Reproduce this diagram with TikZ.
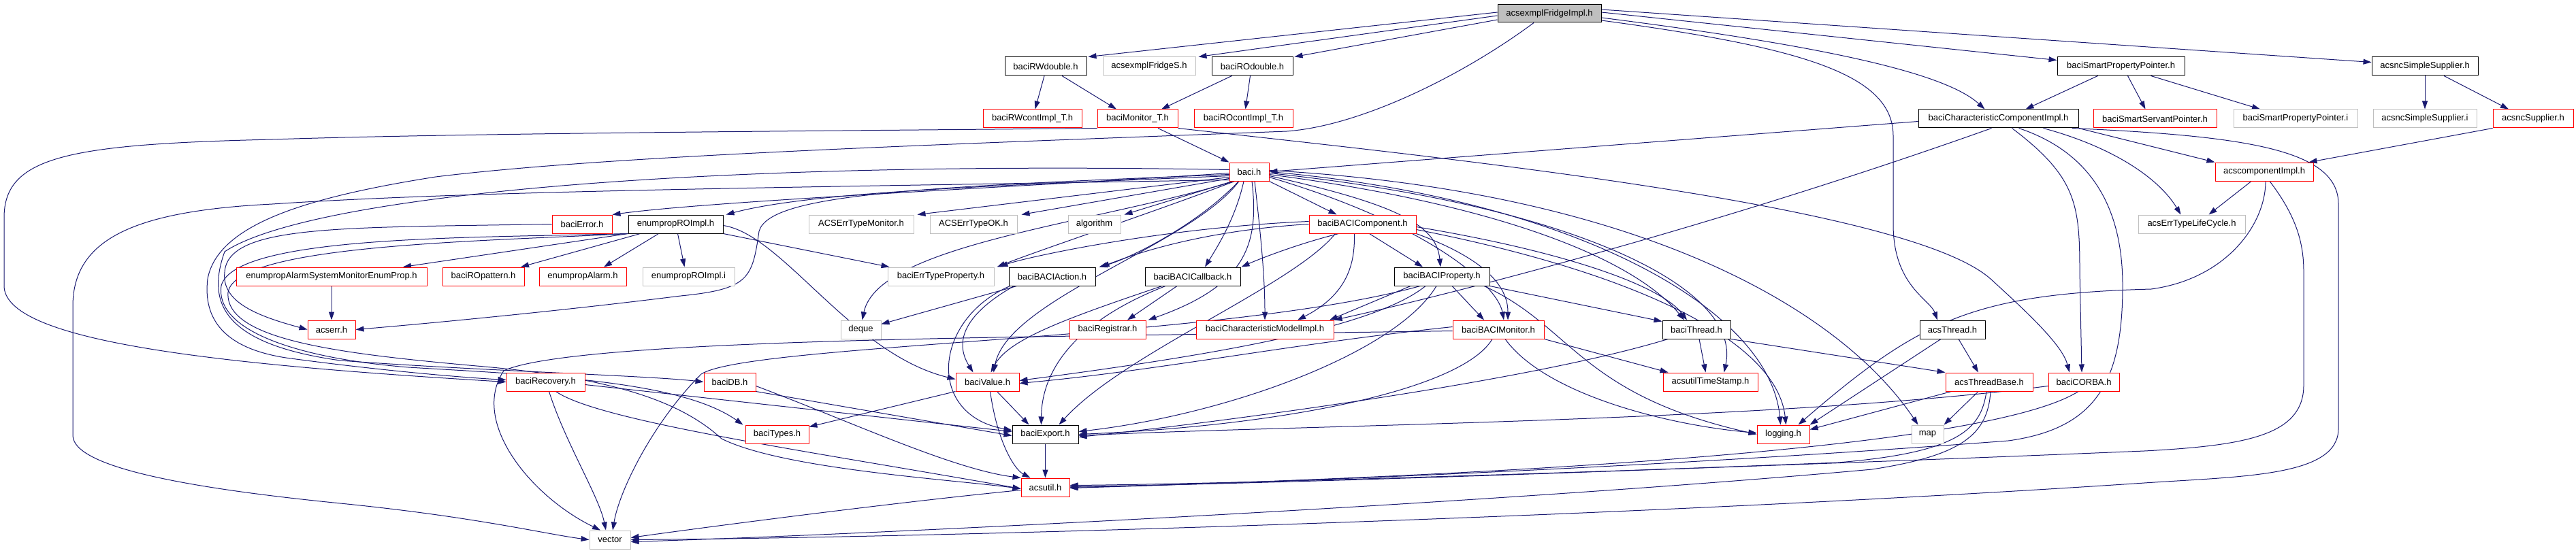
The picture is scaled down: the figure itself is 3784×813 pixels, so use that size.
\documentclass[tikz,border=0pt]{standalone}
\usepackage{fontspec}
\setmainfont{Liberation Sans}
\usetikzlibrary{arrows.meta}
\definecolor{edgec}{RGB}{25,25,112}
\definecolor{gline}{RGB}{191,191,191}
\definecolor{gfill}{RGB}{191,191,191}
\newcommand{\fsz}{\fontsize{13pt}{15pt}\selectfont}
\pgfdeclarelayer{bg}
\pgfsetlayers{bg,main}
\tikzset{
  nb/.style={draw=black, fill=white, line width=1pt, rectangle, inner sep=0pt, minimum height=27pt, font=\fsz},
  nr/.style={nb, draw=red},
  ng/.style={nb, draw=gline},
  e/.style={draw=edgec, line width=1pt, -{Triangle[length=12pt,width=8pt]}},
}
\begin{document}
\begin{tikzpicture}[x=1pt,y=-1pt]
\useasboundingbox (0,0) rectangle (3784,813);
% nodes
\node[nb,fill=gfill,minimum width=152pt,minimum height=26pt] (F) at (2276,20) {acsexmplFridgeImpl.h};
\node[nb,minimum width=120pt] (RWd) at (1536,97.5) {baciRWdouble.h};
\node[ng,minimum width=136pt] (FS) at (1688,97.5) {acsexmplFridgeS.h};
\node[nb,minimum width=119pt] (ROd) at (1839.5,97.5) {baciROdouble.h};
\node[nb,minimum width=187pt] (SPPh) at (3115.5,97.5) {baciSmartPropertyPointer.h};
\node[nb,minimum width=156pt] (SSh) at (3562,97.5) {acsncSimpleSupplier.h};
\node[nr,minimum width=145pt] (RWc) at (1516.5,174.5) {baciRWcontImpl\_T.h};
\node[nr,minimum width=118pt] (MonT) at (1671,174.5) {baciMonitor\_T.h};
\node[nr,minimum width=145pt] (ROc) at (1826.5,174.5) {baciROcontImpl\_T.h};
\node[nb,minimum width=235pt] (CCI) at (2935.5,174.5) {baciCharacteristicComponentImpl.h};
\node[nr,minimum width=181pt] (SSP) at (3165.5,174.5) {baciSmartServantPointer.h};
\node[ng,minimum width=182pt] (SPPi) at (3372,174.5) {baciSmartPropertyPointer.i};
\node[ng,minimum width=152pt] (SSi) at (3562,174.5) {acsncSimpleSupplier.i};
\node[nr,minimum width=118pt] (Sup) at (3721,174.5) {acsncSupplier.h};
\node[nr,minimum width=58pt] (baci) at (1835,252.5) {baci.h};
\node[nr,minimum width=144pt] (aci) at (3326,252.5) {acscomponentImpl.h};
\node[nr,minimum width=88pt] (bErr) at (855,329.5) {baciError.h};
\node[nb,minimum width=139pt] (epRO) at (992.5,329.5) {enumpropROImpl.h};
\node[ng,minimum width=154pt] (ETM) at (1265,329.5) {ACSErrTypeMonitor.h};
\node[ng,minimum width=128pt] (ETOK) at (1430,329.5) {ACSErrTypeOK.h};
\node[ng,minimum width=77pt] (alg) at (1607.5,329.5) {algorithm};
\node[nr,minimum width=157pt] (BComp) at (2001.5,329.5) {baciBACIComponent.h};
\node[ng,minimum width=157pt] (LC) at (3219.5,329.5) {acsErrTypeLifeCycle.h};
\node[nr,minimum width=280pt] (epASM) at (487,406.5) {enumpropAlarmSystemMonitorEnumProp.h};
\node[nr,minimum width=120pt] (ROpat) at (710,406.5) {baciROpattern.h};
\node[nr,minimum width=128pt] (epAl) at (856,406.5) {enumpropAlarm.h};
\node[ng,minimum width=135pt] (epROi) at (1011.5,406.5) {enumpropROImpl.i};
\node[ng,minimum width=156pt] (ETP) at (1382,406.5) {baciErrTypeProperty.h};
\node[nb,minimum width=127pt] (BAct) at (1545.5,406.5) {baciBACIAction.h};
\node[nb,minimum width=140pt] (BCb) at (1752,406.5) {baciBACICallback.h};
\node[nb,minimum width=140pt] (BProp) at (2118,406.5) {baciBACIProperty.h};
\node[nr,minimum width=70pt] (acserr) at (487,484.5) {acserr.h};
\node[ng,minimum width=59pt] (deque) at (1264.5,484.5) {deque};
\node[nr,minimum width=112pt] (Reg) at (1627,484.5) {baciRegistrar.h};
\node[nr,minimum width=202pt] (CMI) at (1858,484.5) {baciCharacteristicModelImpl.h};
\node[nr,minimum width=134pt] (BMon) at (2201,484.5) {baciBACIMonitor.h};
\node[nb,minimum width=100pt] (bThr) at (2492,484.5) {baciThread.h};
\node[nb,minimum width=96pt] (aThr) at (2868,484.5) {acsThread.h};
\node[nr,minimum width=115pt] (Rec) at (801.5,561.5) {baciRecovery.h};
\node[nr,minimum width=76pt] (DB) at (1072,561.5) {baciDB.h};
\node[nr,minimum width=93pt] (Val) at (1450.5,561.5) {baciValue.h};
\node[nr,minimum width=139pt] (TS) at (2512.5,561.5) {acsutilTimeStamp.h};
\node[nr,minimum width=128pt] (TB) at (2922,561.5) {acsThreadBase.h};
\node[nr,minimum width=104pt] (CORBA) at (3061,561.5) {baciCORBA.h};
\node[nr,minimum width=93pt] (Types) at (1141.5,638.5) {baciTypes.h};
\node[nb,minimum width=97pt] (Exp) at (1535.5,638.5) {baciExport.h};
\node[nr,minimum width=77pt] (log) at (2619.5,638.5) {logging.h};
\node[ng,minimum width=47pt] (map) at (2831.5,638.5) {map};
\node[nr,minimum width=71pt] (acsutil) at (1535.5,716.5) {acsutil.h};
\node[ng,minimum width=60pt] (vector) at (896,793.5) {vector};
\begin{pgfonlayer}{bg}
% top level
\draw[e] ([yshift=2pt]F.west) -- ([xshift=2pt]RWd.north east);
\draw[e] ([yshift=-3pt]F.west) -- ([xshift=4pt]FS.north east);
\draw[e] ([yshift=-9pt]F.west) -- ([xshift=2pt]ROd.north east);
\draw[e] ([yshift=2pt]F.east) -- ([yshift=-5pt]SPPh.north west);
\draw[e] ([yshift=6pt]F.east) -- ([yshift=-8pt]SSh.north west);
\draw[e] ([yshift=-6pt]F.east) .. controls (2700,70) and (2860,110) .. ([xshift=-20pt]CCI.north);
\draw[e] ([yshift=-10pt]F.east) .. controls (2650,70) and (2781,110) .. (2781,200) -- (2781,330) .. controls (2781,420) and (2835,440) .. ([xshift=-22pt]aThr.north);
\draw[e] ([xshift=-23pt]F.south) .. controls (2150,110) and (2000,185) .. (1890,193) .. controls (1400,212) and (900,228) .. (640,260) .. controls (450,290) and (320,330) .. (305,410) .. controls (298,470) and (330,512) .. (420,526) .. controls (560,545) and (680,555) .. ([yshift=3pt]Rec.west);
% row 2
\draw[e] ([xshift=-2pt]RWd.south) -- ([xshift=4pt]RWc.north);
\draw[e] ([xshift=24pt]RWd.south) -- ([xshift=-31pt]MonT.north);
\draw[e] ([xshift=-30pt]ROd.south) -- ([xshift=35pt]MonT.north);
\draw[e] ([xshift=-3pt]ROd.south) -- ([xshift=3pt]ROc.north);
\draw[e] ([xshift=-34pt]SPPh.south) -- ([xshift=40pt]CCI.north);
\draw[e] ([xshift=10pt]SPPh.south) -- ([xshift=-14pt]SSP.north);
\draw[e] ([xshift=44pt]SPPh.south) -- ([xshift=-52pt]SPPi.north);
\draw[e] (SSh.south) -- (SSi.north);
\draw[e] ([xshift=28pt]SSh.south) -- ([xshift=-36pt]Sup.north);
\draw[e] (Sup.south west) -- ([xshift=-7pt]aci.north east);
% baciMonitor_T
\draw[e] ([xshift=30pt]MonT.south) -- (baci.north west);
\draw[e] (MonT.south west) .. controls (1300,192) and (700,195) .. (400,205) .. controls (100,212) and (6,230) .. (6,320) -- (6,420) .. controls (6,500) and (300,535) .. (Rec.west);
\draw[e] (MonT.south east) .. controls (2100,230) and (2800,300) .. (2924,410) .. controls (2990,470) and (3030,510) .. ([xshift=-21pt]CORBA.north);
% CCI
\draw[e] ([yshift=-4pt]CCI.west) -- (baci.east);
\draw[e] ([xshift=-10pt]CCI.south) .. controls (2500,340) and (2100,440) .. (CMI.north east);
\draw[e] (CCI.south east) -- (aci.north west);
\draw[e] ([xshift=66pt]CCI.south) .. controls (3100,215) and (3170,260) .. ([xshift=-16pt]LC.north);
\draw[e] ([xshift=20pt]CCI.south) .. controls (3050,260) and (3055,300) .. (3055,400) -- ([xshift=-3pt]CORBA.north);
\draw[e] ([xshift=30pt]CCI.south) .. controls (3090,230) and (3118,330) .. (3118,420) .. controls (3118,560) and (3080,630) .. (2950,648) .. controls (2400,690) and (1800,712) .. (acsutil.east);
\draw[e] ([xshift=-10pt]CCI.south east) .. controls (3300,200) and (3435,220) .. (3435,300) -- (3435,630) .. controls (3435,700) and (3300,700) .. (3150,710) .. controls (2400,760) and (1400,790) .. (vector.east);
% acscomponentImpl
\draw[e] ([xshift=-19pt]aci.south) -- ([xshift=25pt]LC.north);
\draw[e] ([xshift=2pt]aci.south) .. controls (3328,330) and (3270,410) .. (3160,425) .. controls (2900,432) and (2820,470) .. ([xshift=22pt]log.north);
\draw[e] ([xshift=8pt]aci.south) .. controls (3375,320) and (3384,360) .. (3384,400) -- (3384,566) .. controls (3384,640) and (3300,655) .. (3150,663) .. controls (2500,690) and (1800,712) .. ([yshift=3pt]acsutil.east);
% baci.h
\draw[e] ([yshift=-8pt]baci.west) -- ([xshift=5pt]ETM.north east);
\draw[e] ([yshift=-10pt]baci.west) -- ([xshift=6pt]ETOK.north east);
\draw[e] ([xshift=5pt]baci.south west) -- ([xshift=5pt]alg.north east);
\draw[e] ([yshift=-2pt]baci.west) .. controls (1500,275) and (1050,295) .. (bErr.north east);
\draw[e] ([yshift=-6pt]baci.west) .. controls (1500,272) and (1200,280) .. ([xshift=4pt]epRO.north east);
\draw[e] ([yshift=-4pt]baci.west) .. controls (1350,275) and (1130,285) .. (1115,340) .. controls (1105,410) and (1100,425) .. (1000,435) .. controls (800,460) and (600,478) .. (acserr.east);
\draw[e] ([xshift=8pt]baci.south west) .. controls (1700,310) and (1520,370) .. ([xshift=4pt]ETP.north east);
\draw[e] ([xshift=14pt]baci.south west) .. controls (1760,330) and (1660,380) .. ([xshift=5pt]BAct.north east);
\draw[e] ([xshift=-8pt]baci.south) .. controls (1815,320) and (1790,360) .. ([xshift=18pt]BCb.north);
\draw[e] (baci.south east) -- ([xshift=-38pt]BComp.north);
\draw[e] ([yshift=-6pt]baci.east) .. controls (2050,300) and (2110,330) .. ([xshift=-2pt]BProp.north);
\draw[e] ([xshift=8pt]baci.south) .. controls (1850,330) and (1858,400) .. (CMI.north);
\draw[e] ([xshift=4pt]baci.south) .. controls (1850,360) and (1830,420) .. ([xshift=3pt]Reg.north east);
\draw[e] ([xshift=-22pt]baci.south) .. controls (1600,330) and (1290,360) .. ([xshift=2pt]deque.north);
\draw[e] ([xshift=-15pt]baci.south) .. controls (1750,360) and (1480,440) .. ([xshift=9pt]Val.north);
\draw[e] ([yshift=-8pt]baci.east) .. controls (2100,330) and (2200,420) .. ([xshift=8pt]BMon.north);
\draw[e] ([yshift=-4pt]baci.east) .. controls (2200,300) and (2400,380) .. ([xshift=-18pt]bThr.north);
\draw[e] ([yshift=-2pt]baci.east) .. controls (2300,300) and (2560,420) .. ([xshift=20pt]TS.north);
\draw[e] (baci.east) .. controls (2300,290) and (2600,450) .. ([xshift=-4pt]log.north);
\draw[e] ([yshift=2pt]baci.east) .. controls (2400,280) and (2700,450) .. ([xshift=-14pt]map.north);
\draw[e] ([yshift=3pt]baci.west) .. controls (1000,235) and (450,290) .. (330,370) .. controls (305,440) and (320,505) .. (500,530) .. controls (700,545) and (950,552) .. (DB.west);
\draw[e] ([yshift=-12pt]baci.west) .. controls (1200,275) and (700,280) .. (400,300) .. controls (200,310) and (107,350) .. (107,450) -- (107,640) .. controls (107,690) and (300,720) .. (500,740) .. controls (700,760) and (800,785) .. (vector.west);
% enumpropROImpl
\draw[e] (epRO.south west) -- ([xshift=105pt]epASM.north);
\draw[e] ([xshift=-52pt]epRO.south) -- ([xshift=55pt]ROpat.north);
\draw[e] ([xshift=-25pt]epRO.south) -- ([xshift=31pt]epAl.north);
\draw[e] ([xshift=3pt]epRO.south) -- ([xshift=-6pt]epROi.north);
\draw[e] (epRO.south east) -- ([xshift=3pt]ETP.north west);
\draw[e] ([yshift=-2pt]epRO.east) .. controls (1150,345) and (1250,520) .. ([yshift=4pt]Val.west);
\draw[e] ([xshift=-3pt]epRO.south west) .. controls (700,350) and (345,345) .. (325,420) .. controls (315,490) and (450,528) .. (600,540) .. controls (800,552) and (1000,560) .. ([xshift=-3pt]Types.north west);
\draw[e] ([xshift=2pt]epRO.south west) .. controls (700,355) and (345,360) .. (335,430) .. controls (330,500) and (500,520) .. (700,538) .. controls (900,555) and (1000,590) .. (1060,645) .. controls (1150,690) and (1400,705) .. ([yshift=-2pt]acsutil.west);
\draw[e] (epASM.south) -- (acserr.north);
\draw[e] (bErr.west) .. controls (500,335) and (335,330) .. (330,400) .. controls (325,445) and (380,465) .. (acserr.west);
% BACIComponent
\draw[e] ([yshift=4pt]BComp.west) .. controls (1700,335) and (1500,380) .. ([xshift=8pt]ETP.north east);
\draw[e] (BComp.west) .. controls (1750,340) and (1650,380) .. ([xshift=8pt]BAct.north east);
\draw[e] ([xshift=-35pt]BComp.south) .. controls (1900,360) and (1840,385) .. ([xshift=1pt]BCb.north east);
\draw[e] ([xshift=-40pt]BComp.south) .. controls (1900,420) and (1650,520) .. ([xshift=20pt]Exp.north);
\draw[e] ([xshift=-12pt]BComp.south) .. controls (1990,380) and (1985,430) .. ([xshift=48pt]CMI.north);
\draw[e] ([xshift=10pt]BComp.south) -- ([xshift=-28pt]BProp.north);
\draw[e] (BComp.south east) .. controls (2180,380) and (2215,420) .. ([xshift=14pt]BMon.north);
\draw[e] ([yshift=-4pt]BComp.east) .. controls (2300,370) and (2440,420) .. ([xshift=-14pt]bThr.north);
\draw[e] ([yshift=-8pt]BComp.east) .. controls (2400,400) and (2610,500) .. ([xshift=4pt]log.north);
% BACIProperty
\draw[e] ([xshift=15pt]BProp.south) -- ([xshift=-21pt]BMon.north);
\draw[e] ([xshift=-46pt]BProp.south) -- ([xshift=95pt]CMI.north);
\draw[e] ([xshift=-24pt]BProp.south) .. controls (2020,480) and (1800,520) .. ([yshift=2pt]Val.east);
\draw[e] ([xshift=-8pt]BProp.south) .. controls (2050,520) and (1800,610) .. ([yshift=4pt]Exp.east);
\draw[e] (BProp.south east) -- ([yshift=-2pt]bThr.north west);
\draw[e] ([xshift=62pt]BProp.south) .. controls (2310,480) and (2320,580) .. (log.west);
\draw[e] ([xshift=-32pt]BProp.south) .. controls (1800,500) and (1100,505) .. (1030,550) .. controls (960,620) and (910,720) .. ([xshift=4pt]vector.north);
% BACIMonitor
\draw[e] ([yshift=4pt]BMon.west) .. controls (1900,505) and (1700,545) .. ([yshift=-2pt]Val.east);
\draw[e] ([yshift=-2pt]BMon.west) .. controls (1600,495) and (850,495) .. (740,545) .. controls (690,620) and (780,730) .. ([xshift=-14pt]vector.north);
\draw[e] ([xshift=-9pt]BMon.south) .. controls (2150,570) and (1900,625) .. (Exp.east);
\draw[e] (BMon.south east) -- ([xshift=8pt]TS.north west);
\draw[e] ([xshift=10pt]BMon.south) .. controls (2270,580) and (2450,625) .. ([yshift=2pt]log.west);
% threads
\draw[e] ([xshift=4pt]bThr.south) -- ([xshift=-7pt]TS.north);
\draw[e] (bThr.south east) -- (TB.north west);
\draw[e] ([xshift=-42pt]bThr.south) .. controls (2250,560) and (1800,620) .. ([yshift=-4pt]Exp.east);
\draw[e] ([xshift=9pt]aThr.south) -- ([xshift=-16pt]TB.north);
\draw[e] ([xshift=-17pt]aThr.south) -- (log.north east);
\draw[e] ([xshift=9pt]TB.south west) -- ([yshift=7pt]log.east);
\draw[e] ([xshift=-16pt]TB.south) -- (map.north east);
\draw[e] ([xshift=-4pt]TB.south) .. controls (2910,630) and (2880,665) .. (2700,680) .. controls (2200,700) and (1800,712) .. ([yshift=1pt]acsutil.east);
\draw[e] ([xshift=2pt]TB.south) .. controls (2920,640) and (2880,670) .. (2750,690) .. controls (2200,740) and (1300,785) .. ([yshift=-3pt]vector.east);
\draw[e] ([yshift=-6pt]CORBA.west) .. controls (2600,620) and (1900,625) .. ([yshift=-2pt]Exp.east);
\draw[e] ([xshift=-8pt]CORBA.south) .. controls (2950,640) and (2500,690) .. ([yshift=-1pt]acsutil.east);
% action / callback
\draw[e] ([xshift=-52pt]BAct.south) -- ([yshift=8pt]deque.east);
\draw[e] ([xshift=-56pt]BAct.south) .. controls (1420,460) and (1400,500) .. ([xshift=-21pt]Val.north);
\draw[e] ([xshift=-62pt]BAct.south) .. controls (1370,470) and (1360,610) .. ([yshift=6pt]Exp.west);
\draw[e] ([xshift=-45pt]BCb.south) .. controls (1560,470) and (1480,500) .. ([xshift=5pt]Val.north);
\draw[e] ([xshift=-23pt]BCb.south) -- ([xshift=29pt]Reg.north);
\draw[e] ([xshift=-40pt]BCb.south) .. controls (1560,480) and (1530,560) .. ([xshift=-6pt]Exp.north);
% lower
\draw[e] (DB.south east) -- ([yshift=-2pt]Exp.west);
\draw[e] ([yshift=-6pt]DB.east) .. controls (1250,620) and (1400,690) .. (acsutil.north west);
\draw[e] ([yshift=-4pt]Rec.east) -- ([yshift=4pt]Exp.west);
\draw[e] ([xshift=15pt]Rec.south) .. controls (880,620) and (1200,665) .. ([yshift=-2pt]acsutil.west);
\draw[e] ([xshift=5pt]Rec.south) .. controls (830,650) and (880,730) .. ([xshift=-6pt]vector.north);
\draw[e] ([xshift=14pt]Val.south) -- ([xshift=-24pt]Exp.north);
\draw[e] ([xshift=4pt]Val.south) .. controls (1465,650) and (1490,690) .. ([xshift=-22pt]acsutil.north);
\draw[e] (Val.south west) -- ([yshift=-3pt]Types.north east);
\draw[e] (Exp.south) -- (acsutil.north);
\draw[e] ([yshift=-4pt]acsutil.west) .. controls (1300,740) and (1000,780) .. ([yshift=3pt]vector.east);
\end{pgfonlayer}
\end{tikzpicture}
\end{document}
